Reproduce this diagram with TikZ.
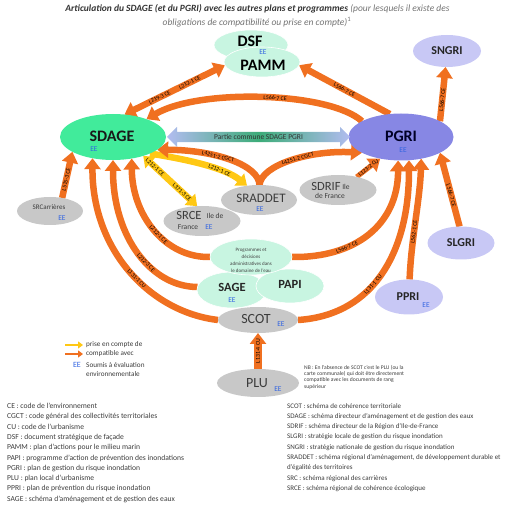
\documentclass[tikz,border=0pt]{standalone}
\usepackage{fontspec}
\setmainfont{Carlito}
\usetikzlibrary{shapes.geometric,shapes.arrows,arrows.meta,backgrounds}
\newcommand\fsz[1]{\fontsize{#1}{#1}\selectfont}
\definecolor{orng}{RGB}{240,112,32}
\definecolor{yel}{RGB}{255,200,20}
\definecolor{sdagec}{RGB}{65,235,155}
\definecolor{mint}{RGB}{200,245,225}
\definecolor{pgric}{RGB}{135,135,228}
\definecolor{lav}{RGB}{200,200,245}
\definecolor{grayc}{RGB}{200,200,200}
\definecolor{eeblue}{RGB}{50,100,225}
\definecolor{txt}{RGB}{60,60,60}
\definecolor{pcl}{RGB}{178,188,240}
\definecolor{pcm}{RGB}{60,172,120}
\begin{document}
\begin{tikzpicture}[x=1pt,y=-1pt,
  ell/.style={ellipse,inner sep=0pt,outer sep=0pt},
  mintell/.style={ell,fill=mint,draw=white,line width=0.6pt},
  grayell/.style={ell,fill=grayc},
  lavell/.style={ell,fill=lav},
  orline/.style={draw=orng,line width=6.5pt},
  oa/.style={orline,-{Triangle[width=16pt,length=11pt]}},
  oaa/.style={orline,{Triangle[width=16pt,length=11pt]}-{Triangle[width=16pt,length=11pt]}},
  ya/.style={draw=yel,line width=6.5pt,-{Triangle[width=15pt,length=10pt]}},
  yaa/.style={draw=yel,line width=6.5pt,{Triangle[width=15pt,length=10pt]}-{Triangle[width=15pt,length=10pt]}},
  lab/.style={sloped,font=\fsz{5.8},text=black,inner sep=0pt},
  ee/.style={font=\fsz{7.5},text=eeblue,inner sep=0pt},
  tx/.style={inner sep=0pt,text=txt},
  big/.style={inner sep=0pt,font=\fsz{16}\bfseries}
]
\useasboundingbox (0,0) rectangle (512,510);

% ---- title
\node[tx,font=\fsz{9.5}] (title1) at (257.5,9) {\textcolor{black!80}{\textbf{\textit{Articulation du SDAGE (et du PGRI) avec les autres plans et programmes}}} \textcolor{black!55}{\textit{(pour lesquels il existe des}}};
\node[tx,font=\fsz{9.5},text=black!55] (title2) at (257,22) {\textit{obligations de compatibilité ou prise en compte)}\textsuperscript{1}};

% ---- nodes
\node[mintell,minimum width=74pt,minimum height=30pt] (dsf) at (251,45) {};
\node[mintell,minimum width=76pt,minimum height=30pt] (pamm) at (262,62) {};
\node[big] (dsft) at (250,41) {DSF};
\node[ee] (dsfee) at (263,52.5) {EE};
\node[big] (pammt) at (263,65) {PAMM};

\node[lavell,minimum width=68pt,minimum height=32pt,font=\fsz{12}\bfseries,text=black!85] (sngri) at (447,51) {SNGRI};

\node[ell,fill=sdagec,minimum width=106pt,minimum height=46pt] (sdage) at (113,137) {};
\node[big,text=black!90] (sdaget) at (112,136) {SDAGE};
\node[ee] (sdageee) at (94,149) {EE};

\node[ell,fill=pgric,minimum width=105pt,minimum height=47pt] (pgri) at (401,137) {};
\node[big,text=black!85!blue] (pgrit) at (401,136) {PGRI};
\node[ee] (pgriee) at (403,150) {EE};

\node[double arrow,double arrow head extend=4.5pt,minimum height=183pt,minimum width=20pt,
      inner xsep=0pt,inner ysep=2pt,left color=pcl,right color=pcl,middle color=pcm,
      font=\fsz{7.5},text=black!80] (common) at (258.5,137) {Partie commune SDAGE PGRI};

\node[grayell,minimum width=66pt,minimum height=28pt] (srcar) at (50,211) {};
\node[tx,font=\fsz{7}] (srcart) at (49,207) {SRCarrières};
\node[ee] (srcaree) at (62,218) {EE};

\node[grayell,minimum width=76pt,minimum height=30pt] (sraddet) at (259,200) {};
\node[tx,font=\fsz{13}] (sraddett) at (261,198) {SRADDET};
\node[ee] (sraddetee) at (260,209) {EE};

\node[grayell,minimum width=77pt,minimum height=30pt] (sdrif) at (338,190) {};
\node[tx,font=\fsz{12.5}] (sdrift) at (326,186) {SDRIF};
\node[tx,font=\fsz{7.5}] (sdrift2) at (346,187) {Ile};
\node[tx,font=\fsz{7.5}] (sdrift3) at (330,196) {de France};

\node[grayell,minimum width=77pt,minimum height=30pt] (srce) at (202,221) {};
\node[tx,font=\fsz{12.5}] (srcet) at (189,215) {SRCE};
\node[tx,font=\fsz{7.5}] (srcet2) at (215,216) {Ile de};
\node[tx,font=\fsz{7.5}] (srcet3) at (188,227) {France};
\node[ee] (srceee) at (209,227) {EE};

\node[lavell,minimum width=67pt,minimum height=33pt,font=\fsz{12}\bfseries,text=black!85] (slgri) at (461,243) {SLGRI};

\node[mintell,minimum width=70pt,minimum height=36pt] (sage) at (232,290) {};
\node[mintell,minimum width=68pt,minimum height=34pt] (papi) at (290,286) {};
\node[mintell,minimum width=82pt,minimum height=36pt] (prog) at (251,257) {};
\node[tx,font=\fontsize{5}{7}\selectfont,align=center,text=black!75] (progt) at (251,260) {Programmes et\\décisions\\administratives dans\\le domaine de l’eau};
\node[inner sep=0pt,font=\fsz{12.5}\bfseries,text=black!85] (saget) at (232,287) {SAGE};
\node[ee] (sageee) at (232,300) {EE};
\node[inner sep=0pt,font=\fsz{12.5}\bfseries,text=black!85] (papit) at (290,284) {PAPI};

\node[lavell,minimum width=68pt,minimum height=35pt] (ppri) at (409,297) {};
\node[inner sep=0pt,font=\fsz{12}\bfseries,text=black!85] (pprit) at (408,297) {PPRI};
\node[ee] (ppriee) at (426,305) {EE};

\node[grayell,minimum width=80pt,minimum height=26pt] (scot) at (258,320) {};
\node[tx,font=\fsz{14}] (scott) at (256,319) {SCOT};
\node[ee] (scotee) at (281,324) {EE};

\node[grayell,minimum width=82pt,minimum height=28pt] (plu) at (258,383) {};
\node[tx,font=\fsz{14}] (plut) at (257,383) {PLU};
\node[ee] (pluee) at (278,389) {EE};

% ---- connectors
\begin{scope}[on background layer]
  % yellow: prise en compte
  \draw[ya] (sdage.-24) .. controls (190,160) and (225,168) .. (sraddet.130)
     node[lab,pos=.65] {L212-1 CE};
  \draw[yaa] (sdage.-32) -- (srce.108)
     node[lab,pos=.22] {L212-1 CE} node[lab,pos=.72] {L371-3 CE};
  % orange: compatible avec
  \draw[oaa] (sdage.63) -- (pamm.-175)
     node[lab,pos=.35] {L219-3 CE} node[lab,pos=.65] {L212-1 CE};
  \draw[oa] (pgri.158) .. controls (330,92) and (200,88) .. (sdage.28)
     node[lab,pos=.45] {L566-7 CE};
  \draw[oa] (pgri.116) -- (pamm.-5) node[lab,pos=.5] {L566-7 CE};
  \draw[oa] (pgri.22) -- (sngri.-95) node[lab,pos=.4] {L566-7 CE};
  \draw[oa] (slgri.95) -- (pgri.-22) node[lab,pos=.42] {L566-7 CE};
  \draw[oa] (sraddet.88) .. controls (259,165) and (215,150) .. (sdage.-16)
     node[lab,pos=.6] {L4251-2 CGCT};
  \draw[oa] (sraddet.88) .. controls (261,165) and (310,150) .. (pgri.-158)
     node[lab,pos=.55] {L4251-2 CGCT};
  \draw[oa,line width=5pt] (sdrif.35) -- (pgri.-134) node[lab,pos=.5] {L123-2 CU};
  \draw[oa] (srcar.47) -- (sdage.-160) node[lab,pos=.4] {L515-3 CE};
  \draw[oa] (scot.180) .. controls (150,312) and (92,250) .. (sdage.-134)
     node[lab,pos=.45] {L131-1 CU};
  \draw[oa] (sage.175) .. controls (152,287) and (113,238) .. (sdage.-90)
     node[lab,pos=.42] {L212-3 CE};
  \draw[oa] (prog.180) .. controls (165,258) and (132,215) .. (sdage.-49)
     node[lab,pos=.45] {L212-1 CE};
  \draw[oa] (prog.0) .. controls (355,258) and (398,225) .. (pgri.-97)
     node[lab,pos=.33] {L566-7 CE};
  \draw[oa] (scot.0) .. controls (375,315) and (409,250) .. (pgri.-71)
     node[lab,pos=.42] {L131-1 CU};
  \draw[oa] (ppri.88) .. controls (411,240) and (420,200) .. (pgri.-47)
     node[lab,pos=.4] {L562-1 CE};
  \draw[oa,line width=7.5pt] (plu.north) -- (scot.south) node[lab,pos=.5] {L131-4 CU};
\end{scope}

% ---- legend
\coordinate (ly1) at (65,345);
\coordinate (ly2) at (83,345);
\coordinate (lo1) at (65,354);
\coordinate (lo2) at (83,354);
\draw[draw=yel,line width=2.5pt,-{Triangle[width=7pt,length=5pt]}] (ly1) -- (ly2);
\draw[draw=orng,line width=2.5pt,-{Triangle[width=7pt,length=5pt]}] (lo1) -- (lo2);
\node[tx,font=\fsz{7.2},anchor=west] (leg1) at (86,345) {prise en compte de};
\node[tx,font=\fsz{7.2},anchor=west] (leg2) at (86,354) {compatible avec};
\node[ee,font=\fsz{8}] (legee) at (77,365) {EE};
\node[tx,font=\fsz{7.2},anchor=west] (leg3) at (86,365) {Soumis à évaluation};
\node[tx,font=\fsz{7.2},anchor=west] (leg4) at (86,374) {environnementale};

\node[tx,font=\fontsize{5.6}{6.3}\selectfont,anchor=north west,align=left] (nb) at (304,365)
  {NB : En l’absence de SCOT c’est le PLU (ou la\\carte communale) qui doit être directement\\compatible avec les documents de rang\\supérieur};

% ---- glossary
\node[tx,anchor=north west,align=left,font=\fontsize{7.6}{10.3}\selectfont] (glossl) at (7,403)
  {CE : code de l’environnement\\
   CGCT : code général des collectivités territoriales\\
   CU : code de l’urbanisme\\
   DSF : document stratégique de façade\\
   PAMM : plan d’actions pour le milieu marin\\
   PAPI : programme d’action de prévention des inondations\\
   PGRI : plan de gestion du risque inondation\\
   PLU : plan local d’urbanisme\\
   PPRI : plan de prévention du risque inondation\\
   SAGE : schéma d’aménagement et de gestion des eaux};
\node[tx,anchor=north west,align=left,font=\fontsize{7.0}{10.3}\selectfont] (glossr) at (287,403)
  {SCOT : schéma de cohérence territoriale\\
   SDAGE : schéma directeur d’aménagement et de gestion des eaux\\
   SDRIF : schéma directeur de la Région d’Ile-de-France\\
   SLGRI : stratégie locale de gestion du risque inondation\\
   SNGRI : stratégie nationale de gestion du risque inondation\\
   SRADDET : schéma régional d’aménagement, de développement durable et\\
   d’égalité des territoires\\
   SRC : schéma régional des carrières\\
   SRCE : schéma régional de cohérence écologique};
\end{tikzpicture}
\end{document}
